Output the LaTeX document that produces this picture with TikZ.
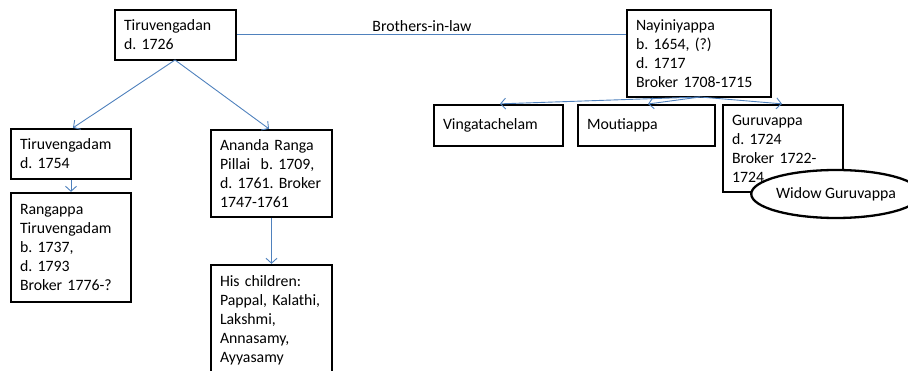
\documentclass[tikz,border=0pt]{standalone}
\usepackage{fontspec}
\setmainfont{Carlito}
\frenchspacing
\usetikzlibrary{arrows.meta,shapes.geometric}
\definecolor{linkblue}{RGB}{79,129,189}
\tikzset{
  box/.style={draw=black, line width=2.3pt, align=left, inner xsep=9pt, inner ysep=0pt,
    font=\fontsize{15.8}{19}\selectfont},
  link/.style={draw=linkblue, line width=0.9pt, -{Straight Barb[length=5pt,width=11pt,line width=0.9pt]}},
  plain/.style={draw=linkblue, line width=0.9pt},
  lbl/.style={font=\fontsize{15.8}{19}\selectfont, inner sep=0pt},
  oval/.style={ellipse, draw=black, line width=2.3pt, fill=white, inner sep=0pt,
    font=\fontsize{15.8}{19}\selectfont}
}
\begin{document}
\begin{tikzpicture}[x=1pt,y=-1pt]
\useasboundingbox (0,0) rectangle (908,371);
\node[box, minimum width=121pt, minimum height=50pt, text width=103pt] (tvn) at (175.5,35) {Tiruvengadan\\d. 1726};
\node[box, minimum width=144pt, minimum height=87pt, text width=126pt] (nay) at (699,53.5) {Nayiniyappa\\b. 1654, (?)\\d. 1717\\Broker 1708-1715};
\node[box, minimum width=129pt, minimum height=41pt, text width=111pt] (vin) at (498.5,125.5) {\raisebox{3pt}{Vingatachelam}};
\node[box, minimum width=137pt, minimum height=41pt, text width=119pt] (mou) at (646.5,125.5) {\raisebox{3pt}{Moutiappa}};
\node[box, minimum width=120pt, minimum height=87pt, text width=102pt] (gur) at (783,148.5) {Guruvappa\\d. 1724\\Broker 1722-\\1724};
\node[box, minimum width=120pt, minimum height=50pt, text width=102pt] (tvm) at (71,154) {Tiruvengadam\\d. 1754};
\node[box, minimum width=120pt, minimum height=109pt, text width=102pt] (ran) at (71,247.5) {Rangappa\\Tiruvengadam\\b. 1737,\\d. 1793\\Broker 1776-?};
\node[box, minimum width=121pt, minimum height=87pt, text width=103pt] (ana) at (271.5,173.5) {Ananda Ranga\\Pillai\ \ b. 1709,\\d. 1761. Broker\\1747-1761};
\node[box, minimum width=121pt, minimum height=110pt, text width=103pt] (chi) at (271.5,320) {His children:\\Pappal, Kalathi,\\Lakshmi,\\Annasamy,\\Ayyasamy};
\node[oval, minimum width=148pt, minimum height=48pt] (wid) at (836,194) {Widow Guruvappa};

\coordinate (tvnb) at (175,60);
\coordinate (nayb) at (700,97);
\draw[plain] (tvn.east |- 0,34) -- (nay.west |- 0,34);
\node[lbl] (bil) at (422,26) {Brothers-in-law};
\draw[link] (tvnb) -- (tvm.north -| 73,0);
\draw[link] (tvnb) -- (ana.north -| 269,0);
\draw[link] (tvm.south) -- (ran.north);
\draw[link] (ana.south) -- (chi.north);
\draw[link] (nayb) -- (vin.north -| 500,0);
\draw[link] (nayb) -- (648,104);
\draw[link] (nayb) -- (gur.north -| 782,0);
\end{tikzpicture}
\end{document}
